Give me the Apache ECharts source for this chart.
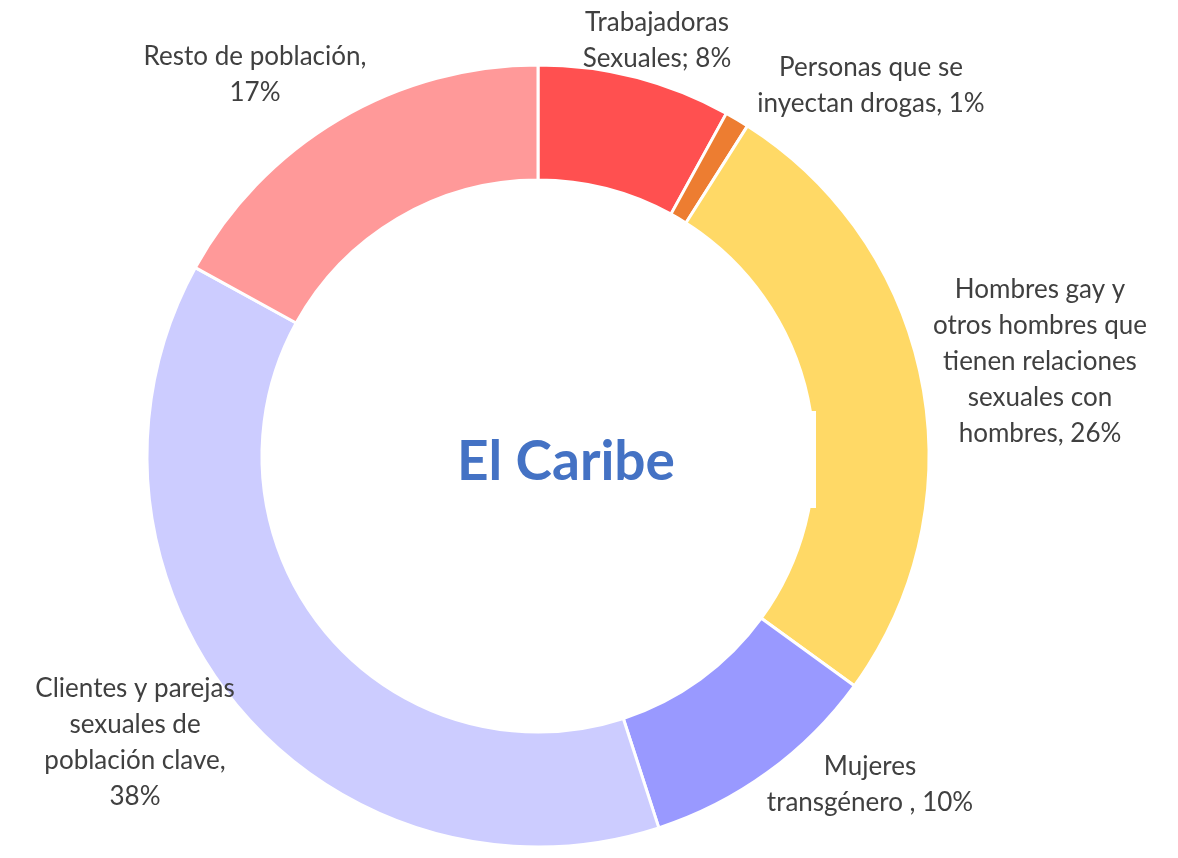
<!DOCTYPE html>
<html>
<head>
<meta charset="utf-8">
<script src="https://cdn.jsdelivr.net/npm/echarts@6/dist/echarts.min.js"></script>
<style>
html,body{margin:0;padding:0;background:#fff;}
#chart{width:1178px;height:858px;}
</style>
</head>
<body>
<div id="chart"></div>
<script>
const categories = [
  'Trabajadoras\nSexuales',
  'Personas que se\ninyectan drogas',
  'Hombres gay y\notros hombres que\ntienen relaciones\nsexuales con\nhombres',
  'Mujeres\ntransgénero ',
  'Clientes y parejas\nsexuales de\npoblación clave',
  'Resto de población'
];
const values = [8, 1, 26, 10, 38, 17];
const separators = ['; ', ', ', ', ', ', ', ',\n', ',\n'];
const colors = ['#FF5050', '#ED7D31', '#FFD966', '#9999FF', '#CCCCFF', '#FF9999'];
const centerTitle = 'El Caribe';

// label anchor positions (layout only)
const labelPos = [
  [657, 41], [871, 86], [1040, 362], [870, 785], [135, 743], [255, 75]
];

const chart = echarts.init(document.getElementById('chart'), null, {renderer: 'canvas'});
chart.setOption({
  backgroundColor: '#ffffff',
  animation: false,
  graphic: [
    {
      type: 'text',
      x: 566, y: 462,
      style: {
        text: centerTitle,
        fill: '#4472C4',
        font: 'bold 55px Lato, "Liberation Sans", sans-serif',
        align: 'center',
        verticalAlign: 'middle'
      },
      z: 100
    },
    {
      type: 'rect',
      shape: {x: 780, y: 411, width: 36, height: 97},
      style: {fill: '#ffffff'},
      z: 50
    }
  ],
  series: [{
    type: 'pie',
    center: [538, 456],
    radius: [276, 391],
    startAngle: 90,
    clockwise: true,
    avoidLabelOverlap: false,
    itemStyle: {borderColor: '#ffffff', borderWidth: 3},
    label: {
      show: true,
      position: 'outside',
      color: '#404040',
      fontFamily: 'Lato, "Liberation Sans", sans-serif',
      fontSize: 26,
      lineHeight: 36,
      align: 'center',
      formatter: function (p) {
        return p.name + separators[p.dataIndex] + p.value + '%';
      }
    },
    labelLine: {show: false},
    labelLayout: function (p) {
      const pos = labelPos[p.dataIndex];
      return {x: pos[0], y: pos[1], align: 'center', verticalAlign: 'middle', moveOverlap: null};
    },
    emphasis: {disabled: true},
    data: categories.map((c, i) => ({name: c, value: values[i], itemStyle: {color: colors[i]}}))
  }]
});
</script>
</body>
</html>
